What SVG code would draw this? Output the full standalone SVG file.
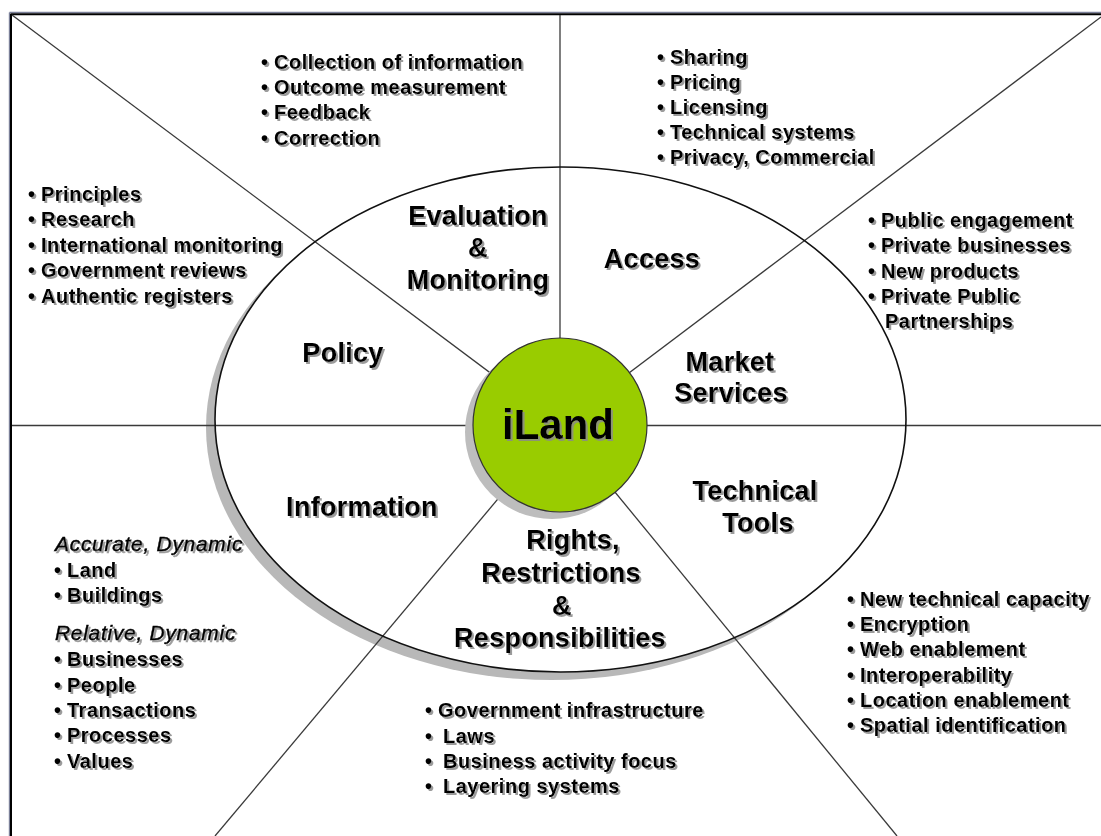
<svg xmlns="http://www.w3.org/2000/svg" width="1101" height="836" viewBox="0 0 1101 836">
<defs>
<filter id="ts" x="-5%" y="-20%" width="115%" height="150%">
<feDropShadow dx="2" dy="2" stdDeviation="0.6" flood-color="#8a8a8a" flood-opacity="0.85"/>
</filter>
<style>
.b{font-family:"Liberation Sans",Arial,sans-serif;font-weight:bold;font-size:20px;letter-spacing:0.5px;fill:#000}
.it{font-family:"Liberation Sans",Arial,sans-serif;font-style:italic;font-size:21px;letter-spacing:0.7px;fill:#000;stroke:#000;stroke-width:0.45}
.h{font-family:"Liberation Sans",Arial,sans-serif;font-weight:bold;font-size:27px;letter-spacing:0.3px;text-anchor:middle;fill:#000}
.ln{stroke:#3a3a3a;stroke-width:1.3;fill:none}
</style>
</defs>
<rect x="0" y="0" width="1101" height="836" fill="#fff"/>
<g id="frame">
<line x1="9.5" y1="12.5" x2="1101" y2="12.5" stroke="#7b8099" stroke-width="1.4"/>
<line x1="9.5" y1="12.5" x2="9.5" y2="836" stroke="#7b8099" stroke-width="1.4"/>
<line x1="10.5" y1="14.3" x2="1101" y2="14.3" stroke="#000" stroke-width="2"/>
<line x1="11" y1="14" x2="11" y2="836" stroke="#000" stroke-width="2"/>
</g>
<g id="ring">
<ellipse cx="551.5" cy="427.5" rx="345.5" ry="252.5" fill="#b8b8b8"/>
<ellipse cx="560.5" cy="419.5" rx="345.5" ry="252.5" fill="#fff"/>
</g>
<g id="connectors">
<line class="ln" x1="560" y1="15" x2="560" y2="425"/>
<line class="ln" x1="12" y1="15" x2="560" y2="425"/>
<line class="ln" x1="1101" y1="17" x2="560" y2="425"/>
<line class="ln" x1="12" y1="425.5" x2="1101" y2="425.5"/>
<line class="ln" x1="560" y1="425" x2="215" y2="836"/>
<line class="ln" x1="560" y1="425" x2="897" y2="836"/>
</g>
<ellipse cx="560.5" cy="419.5" rx="345.5" ry="252.5" fill="none" stroke="#111" stroke-width="1.6"/>
<g id="iLand">
<circle cx="552" cy="432" r="87" fill="#bdbdbd"/>
<circle cx="560" cy="425" r="87" fill="#99cc00" stroke="#333" stroke-width="1.2"/>
<text x="558" y="439" text-anchor="middle" font-family="'Liberation Sans',Arial,sans-serif" font-weight="bold" font-size="42" filter="url(#ts)">iLand</text>
</g>
<g filter="url(#ts)">
<g id="evaluation">
<text class="h" x="478" y="225">Evaluation</text>
<text class="h" x="478" y="257">&amp;</text>
<text class="h" x="478" y="289">Monitoring</text>
</g>
<g id="access"><text class="h" x="652" y="268">Access</text></g>
<g id="policy"><text class="h" x="343" y="362">Policy</text></g>
<g id="market">
<text class="h" x="730" y="371">Market</text>
<text class="h" x="731" y="402">Services</text>
</g>
<g id="information"><text class="h" x="362" y="516">Information</text></g>
<g id="technical">
<text class="h" x="755" y="500">Technical</text>
<text class="h" x="758" y="532">Tools</text>
</g>
<g id="rights">
<text class="h" x="573" y="549">Rights,</text>
<text class="h" x="561" y="582">Restrictions</text>
<text class="h" x="562" y="615">&amp;</text>
<text class="h" x="560" y="647">Responsibilities</text>
</g>
<g id="evaluation-items">
<text class="b" x="261" y="69">•<tspan x="274">Collection of information</tspan></text>
<text class="b" x="261" y="94">•<tspan x="274">Outcome measurement</tspan></text>
<text class="b" x="261" y="119">•<tspan x="274">Feedback</tspan></text>
<text class="b" x="261" y="145">•<tspan x="274">Correction</tspan></text>
</g>
<g id="access-items">
<text class="b" x="657" y="64">•<tspan x="670">Sharing</tspan></text>
<text class="b" x="657" y="89">•<tspan x="670">Pricing</tspan></text>
<text class="b" x="657" y="114">•<tspan x="670">Licensing</tspan></text>
<text class="b" x="657" y="139">•<tspan x="670">Technical systems</tspan></text>
<text class="b" x="657" y="164">•<tspan x="670">Privacy, Commercial</tspan></text>
</g>
<g id="policy-items">
<text class="b" x="28" y="201">•<tspan x="41">Principles</tspan></text>
<text class="b" x="28" y="226">•<tspan x="41">Research</tspan></text>
<text class="b" x="28" y="252">•<tspan x="41">International monitoring</tspan></text>
<text class="b" x="28" y="277">•<tspan x="41">Government reviews</tspan></text>
<text class="b" x="28" y="303">•<tspan x="41">Authentic registers</tspan></text>
</g>
<g id="market-items">
<text class="b" x="868" y="227">•<tspan x="881">Public engagement</tspan></text>
<text class="b" x="868" y="252">•<tspan x="881">Private businesses</tspan></text>
<text class="b" x="868" y="278">•<tspan x="881">New products</tspan></text>
<text class="b" x="868" y="303">•<tspan x="881">Private Public</tspan></text>
<text class="b" x="885" y="328">Partnerships</text>
</g>
<g id="information-items">
<text class="it" x="55" y="551">Accurate, Dynamic</text>
<text class="b" x="54" y="577">•<tspan x="67">Land</tspan></text>
<text class="b" x="54" y="602">•<tspan x="67">Buildings</tspan></text>
<text class="it" x="55" y="640">Relative, Dynamic</text>
<text class="b" x="54" y="666">•<tspan x="67">Businesses</tspan></text>
<text class="b" x="54" y="692">•<tspan x="67">People</tspan></text>
<text class="b" x="54" y="717">•<tspan x="67">Transactions</tspan></text>
<text class="b" x="54" y="742">•<tspan x="67">Processes</tspan></text>
<text class="b" x="54" y="768">•<tspan x="67">Values</tspan></text>
</g>
<g id="rights-items">
<text class="b" x="425" y="717">•<tspan x="438">Government infrastructure</tspan></text>
<text class="b" x="425" y="743">•<tspan x="443">Laws</tspan></text>
<text class="b" x="425" y="768">•<tspan x="443">Business activity focus</tspan></text>
<text class="b" x="425" y="793">•<tspan x="443">Layering systems</tspan></text>
</g>
<g id="technical-items">
<text class="b" x="847" y="606">•<tspan x="860">New technical capacity</tspan></text>
<text class="b" x="847" y="631">•<tspan x="860">Encryption</tspan></text>
<text class="b" x="847" y="656">•<tspan x="860">Web enablement</tspan></text>
<text class="b" x="847" y="682">•<tspan x="860">Interoperability</tspan></text>
<text class="b" x="847" y="707">•<tspan x="860">Location enablement</tspan></text>
<text class="b" x="847" y="732">•<tspan x="860">Spatial identification</tspan></text>
</g>
</g>
</svg>
